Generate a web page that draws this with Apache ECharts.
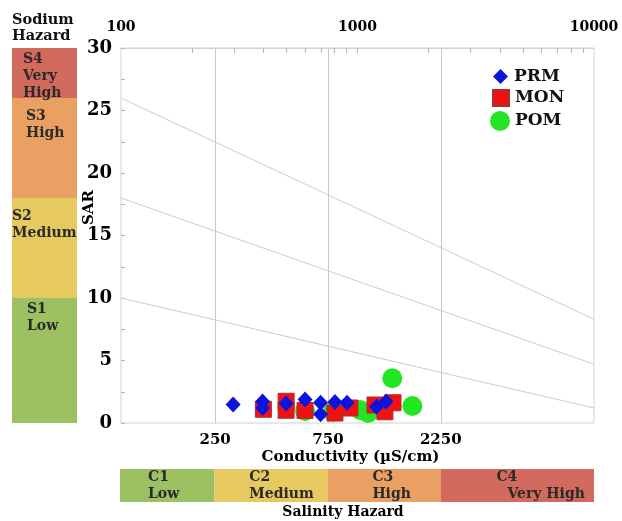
<!DOCTYPE html>
<html>
<head>
<meta charset="utf-8">
<script src="https://cdn.jsdelivr.net/npm/echarts@6/dist/echarts.min.js"></script>
<style>
html, body { margin: 0; padding: 0; background: #fff; }
#main { width: 622px; height: 521px; }
</style>
</head>
<body>
<div id="main"></div>
<script>
// samples: conductivity (uS/cm) and SAR
var prmEC = [298, 397, 397, 499, 600, 698, 698, 803, 903, 1203, 1320];
var prmSAR = [1.48, 1.72, 1.2, 1.56, 1.88, 1.62, 0.7, 1.68, 1.62, 1.3, 1.72];
var monEC = [400, 499, 499, 600, 803, 929, 1186, 1306, 1413];
var monSAR = [1.1, 1.74, 1.02, 1.0, 0.8, 1.2, 1.44, 0.9, 1.62];
var pomEC = [600, 789, 1026, 1107, 1403, 1706];
var pomSAR = [0.96, 0.9, 1.04, 0.8, 3.58, 1.36];

// sodium hazard boundary lines, [EC, SAR] at both ends
var boundLow = [[100, 10], [10000, 1.2]];
var boundMed = [[100, 18], [10000, 4.7]];
var boundHigh = [[100, 26], [10000, 8.3]];

var sodiumLimits = [0, 10, 18, 26, 30];
var sodiumNames = ['S1\nLow', 'S2\nMedium', 'S3\nHigh', 'S4\nVery\nHigh'];
var salinityLimits = [100, 250, 750, 2250, 10000];
var salinityCode = ['C1', 'C2', 'C3', 'C4'];
var salinityWord = ['Low', 'Medium', 'High', 'Very High'];

var topLabels = [100, 1000, 10000];
var topTicks = [200, 300, 400, 500, 600, 700, 800, 900, 1000,
	2000, 3000, 4000, 5000, 6000, 7000, 8000, 9000];
var bottomLabels = [250, 750, 2250];

// styles
var FONT = 'DejaVu Serif';
var hazardColors = ['#9cc163', '#e6c95f', '#eba063', '#d36a5e'];
var sodiumOffsets = [[15, 3], [0, 10], [14, 10], [11, 3]];
var salinityOffsets = [28, 35, 45, 56];
var salinityIndent = [0, 0, 0, 11];

function lg(v) { return Math.log10(v); }
function pts(ec, sar) {
	return ec.map(function (v, i) { return [lg(v), sar[i]]; });
}
function linePts(p) {
	return p.map(function (q) { return [lg(q[0]), q[1]]; });
}

var series = [];

[boundLow, boundMed, boundHigh].forEach(function (b) {
	series.push({
		type : 'line',
		xAxisIndex : 0,
		yAxisIndex : 0,
		data : linePts(b),
		symbol : 'none',
		silent : true,
		z : 1,
		lineStyle : { color : '#cdcdcd', width : 1 }
	});
});

series.push({
	name : 'POM', type : 'scatter', xAxisIndex : 0, yAxisIndex : 0,
	data : pts(pomEC, pomSAR), symbol : 'circle', symbolSize : 20, z : 3,
	itemStyle : { color : '#22e622', opacity : 1 }
});
series.push({
	name : 'MON', type : 'scatter', xAxisIndex : 0, yAxisIndex : 0,
	data : pts(monEC, monSAR), symbol : 'rect', symbolSize : 16, z : 4,
	itemStyle : { color : '#f01212', borderColor : '#a83030', borderWidth : 1, opacity : 1 }
});
series.push({
	name : 'PRM', type : 'scatter', xAxisIndex : 0, yAxisIndex : 0,
	data : pts(prmEC, prmSAR), symbol : 'diamond', symbolSize : [15, 16], z : 5,
	itemStyle : { color : '#0a14dc', opacity : 1 }
});

// sodium hazard column
for (var i = 0; i < 4; i++) {
	series.push({
		type : 'bar', xAxisIndex : 2, yAxisIndex : 1, stack : 'sod',
		barWidth : '100%', silent : true,
		data : [sodiumLimits[i + 1] - sodiumLimits[i]],
		itemStyle : { color : hazardColors[i] },
		label : {
			show : true, position : 'insideTopLeft', distance : 0,
			offset : sodiumOffsets[i], formatter : sodiumNames[i],
			fontFamily : FONT, fontWeight : 'bold', fontSize : 14,
			lineHeight : 17, color : '#2a2a2a', align : 'left'
		}
	});
}

// salinity hazard row
for (var j = 0; j < 4; j++) {
	series.push({
		type : 'bar', xAxisIndex : 3, yAxisIndex : 2, stack : 'sal',
		barWidth : '100%', silent : true,
		data : [lg(salinityLimits[j + 1]) - lg(salinityLimits[j])],
		itemStyle : { color : hazardColors[j] },
		label : {
			show : true, position : 'insideLeft', distance : 0,
			offset : [salinityOffsets[j], 0],
			formatter : '{c|' + salinityCode[j] + '}\n{w|' + salinityWord[j] + '}',
			rich : {
				c : { fontFamily : FONT, fontWeight : 'bold', fontSize : 14, lineHeight : 17, color : '#2a2a2a' },
				w : { fontFamily : FONT, fontWeight : 'bold', fontSize : 14, lineHeight : 17, color : '#2a2a2a',
					padding : [0, 0, 0, salinityIndent[j]] }
			}
		}
	});
}

var legendText = { fontFamily : FONT, fontWeight : 'bold', fontSize : 17, color : '#111' };

var myChart = echarts.init(document.getElementById('main'));
myChart.setOption({
	animation : false,
	backgroundColor : '#fff',
	legend : [ {
		left : 488, top : 63, itemWidth : 15, itemHeight : 15, itemGap : 0,
		data : [ { name : 'PRM', icon : 'diamond' } ],
		textStyle : Object.assign({ padding : [0, 0, 0, 1] }, legendText)
	}, {
		left : 487, top : 84, itemWidth : 16, itemHeight : 16, itemGap : 0,
		data : [ { name : 'MON', icon : 'rect' } ],
		textStyle : Object.assign({ padding : [0, 0, 0, 1] }, legendText)
	}, {
		left : 485, top : 106, itemWidth : 20, itemHeight : 20, itemGap : 0,
		data : [ { name : 'POM', icon : 'circle' } ],
		textStyle : Object.assign({ padding : [0, 0, 0, 0] }, legendText)
	} ],
	grid : [ {
		left : 121, right : 28, top : 48, bottom : 98,
		show : true, borderColor : '#d2d2d2', borderWidth : 1
	}, {
		left : 12, width : 65, top : 48, bottom : 98
	}, {
		left : 120, right : 28, top : 469, height : 33
	} ],
	xAxis : [ {
		gridIndex : 0, type : 'value', position : 'top', min : 2, max : 4,
		axisLine : { show : true, onZero : false, lineStyle : { color : '#d2d2d2' } },
		axisTick : { show : true, inside : true, length : 5,
			customValues : topTicks.map(lg), lineStyle : { color : '#b4b4b4', width : 1 } },
		axisLabel : { customValues : topLabels.map(lg), margin : 14,
			formatter : function (v) { return Math.round(Math.pow(10, v)); },
			fontFamily : FONT, fontWeight : 'bold', fontSize : 14, color : '#000' },
		splitLine : { show : false }
	}, {
		gridIndex : 0, type : 'value', position : 'bottom', min : 2, max : 4,
		name : 'Conductivity (\u00b5S/cm)', nameLocation : 'middle', nameGap : 27,
		nameMoveOverlap : false,
		nameTextStyle : { fontFamily : FONT, fontWeight : 'bold', fontSize : 15, color : '#000',
			verticalAlign : 'top', padding : [0, 14, 0, 0] },
		axisLine : { show : false, onZero : false },
		axisTick : { show : false, customValues : bottomLabels.map(lg) },
		axisLabel : { customValues : bottomLabels.map(lg), margin : 10,
			formatter : function (v) { return Math.round(Math.pow(10, v)); },
			fontFamily : FONT, fontWeight : 'bold', fontSize : 15, color : '#000' },
		splitLine : { show : true, lineStyle : { color : '#c8c8c8', width : 1 } }
	}, {
		gridIndex : 1, type : 'category', data : ['S'], show : false
	}, {
		gridIndex : 2, type : 'value', min : 0, max : 2,
		name : 'Salinity Hazard', nameLocation : 'middle', nameGap : 3,
		nameMoveOverlap : false,
		nameTextStyle : { fontFamily : FONT, fontWeight : 'bold', fontSize : 14, color : '#000',
			verticalAlign : 'top', padding : [0, 28, 0, 0] },
		axisLine : { show : false, onZero : false }, axisTick : { show : false },
		axisLabel : { show : false }, splitLine : { show : false }
	} ],
	yAxis : [ {
		gridIndex : 0, type : 'value', min : 0, max : 30, interval : 5,
		name : 'SAR', nameLocation : 'middle', nameGap : 24,
		nameMoveOverlap : false,
		nameTextStyle : { fontFamily : FONT, fontWeight : 'bold', fontSize : 15, color : '#000',
			padding : [0, 0, 0, 56] },
		axisLine : { show : false, onZero : false },
		axisTick : { show : true, inside : true, length : 4, lineStyle : { color : '#b8b8b8' } },
		minorTick : { show : true, splitNumber : 2, length : 4, lineStyle : { color : '#b8b8b8' } },
		axisLabel : { margin : 9, fontFamily : FONT, fontWeight : 'bold', fontSize : 18, color : '#000' },
		splitLine : { show : false }
	}, {
		gridIndex : 1, type : 'value', min : 0, max : 30,
		name : 'Sodium\nHazard', nameLocation : 'end', nameGap : 4,
		nameTextStyle : { fontFamily : FONT, fontWeight : 'bold', fontSize : 14.5, lineHeight : 16,
			color : '#111', align : 'left' },
		axisLine : { show : false }, axisTick : { show : false },
		axisLabel : { show : false }, splitLine : { show : false }
	}, {
		gridIndex : 2, type : 'category', data : ['C'], show : false
	} ],
	series : series
});
</script>
</body>
</html>
